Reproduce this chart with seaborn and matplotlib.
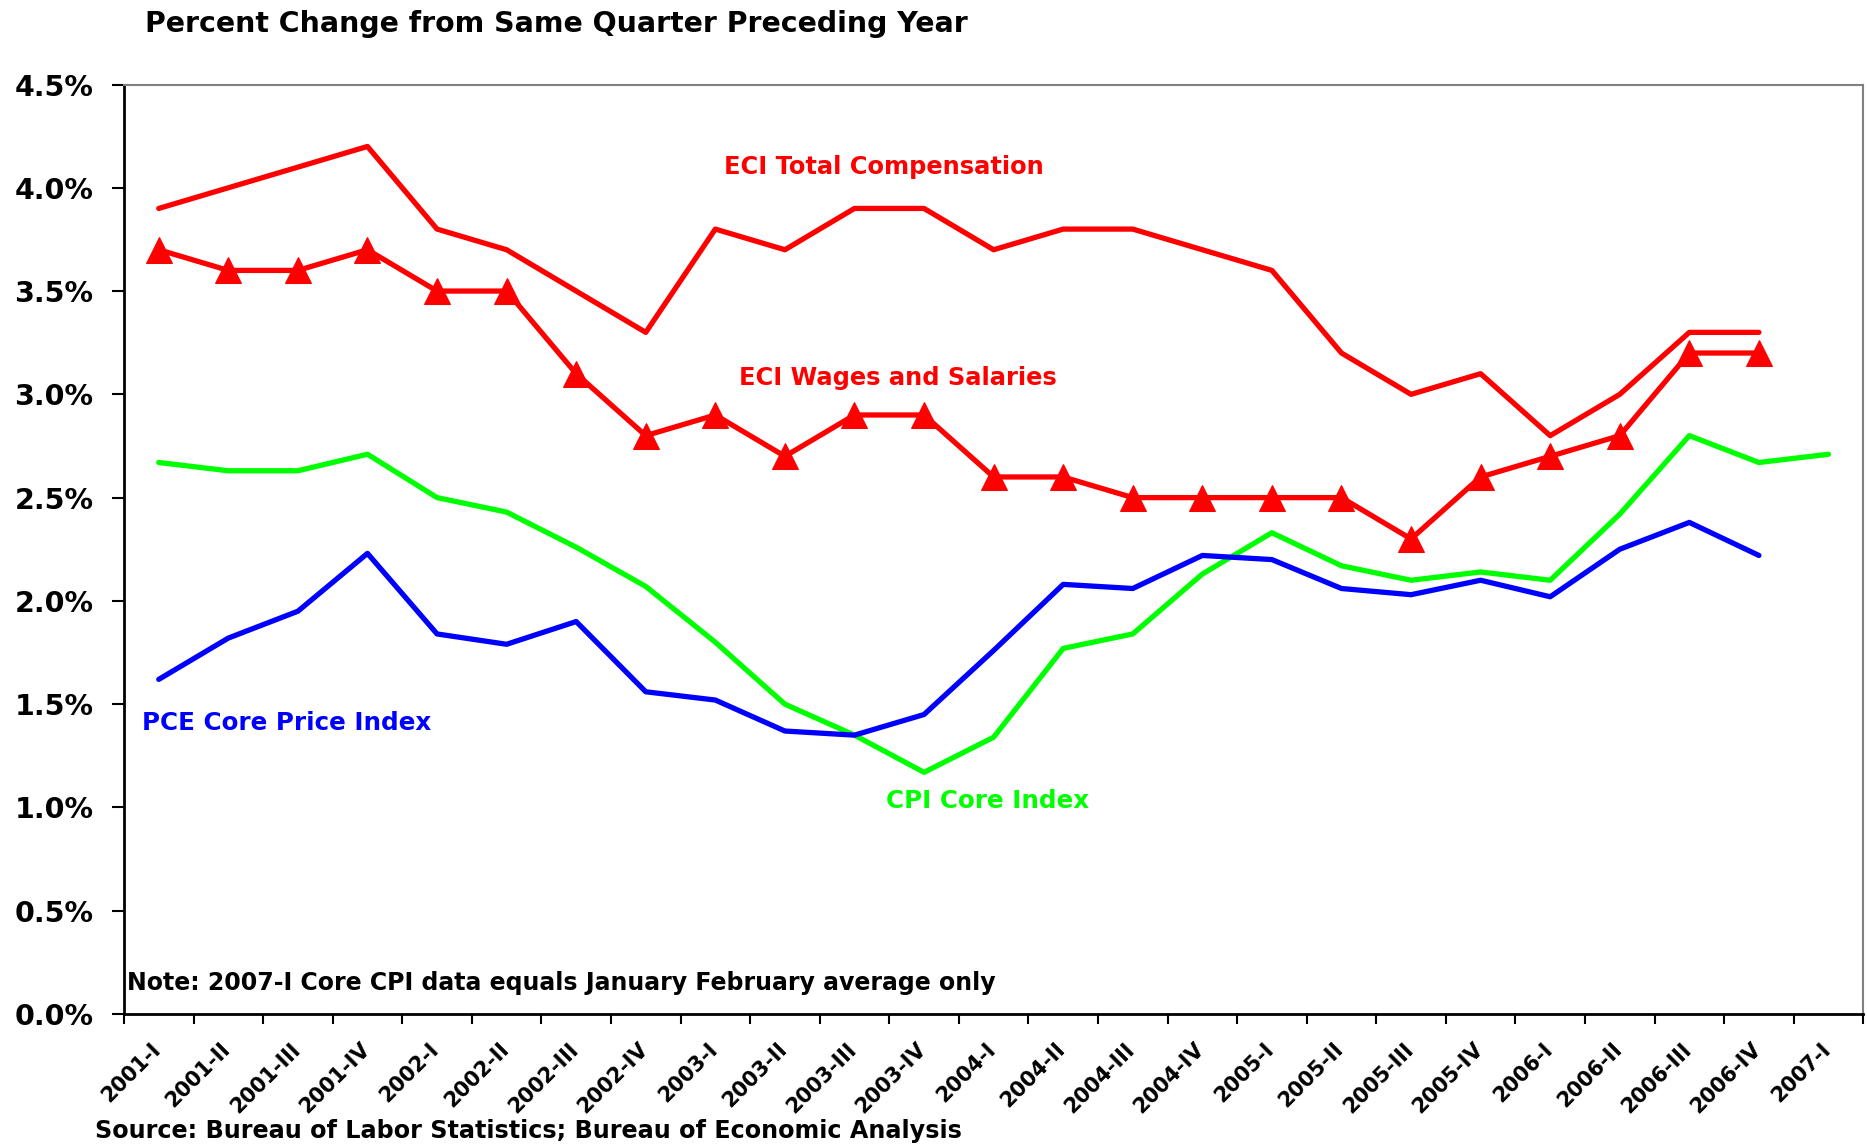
import matplotlib
matplotlib.use("Agg")
import matplotlib.pyplot as plt
import matplotlib.transforms as mtransforms
import seaborn as sns
import numpy as np
import pandas as pd

quarters = ["2001-I", "2001-II", "2001-III", "2001-IV", "2002-I", "2002-II", "2002-III", "2002-IV",
            "2003-I", "2003-II", "2003-III", "2003-IV", "2004-I", "2004-II", "2004-III", "2004-IV",
            "2005-I", "2005-II", "2005-III", "2005-IV", "2006-I", "2006-II", "2006-III", "2006-IV", "2007-I"]

eci_total = [3.9, 4.0, 4.1, 4.2, 3.8, 3.7, 3.5, 3.3, 3.8, 3.7, 3.9, 3.9, 3.7, 3.8, 3.8, 3.7,
             3.6, 3.2, 3.0, 3.1, 2.8, 3.0, 3.3, 3.3, np.nan]
eci_wages = [3.7, 3.6, 3.6, 3.7, 3.5, 3.5, 3.1, 2.8, 2.9, 2.7, 2.9, 2.9, 2.6, 2.6, 2.5, 2.5,
             2.5, 2.5, 2.3, 2.6, 2.7, 2.8, 3.2, 3.2, np.nan]
cpi_core = [2.67, 2.63, 2.63, 2.71, 2.50, 2.43, 2.26, 2.07, 1.80, 1.50, 1.35, 1.17, 1.34, 1.77, 1.84, 2.13,
            2.33, 2.17, 2.10, 2.14, 2.10, 2.42, 2.80, 2.67, 2.71]
pce_core = [1.62, 1.82, 1.95, 2.23, 1.84, 1.79, 1.90, 1.56, 1.52, 1.37, 1.35, 1.45, 1.76, 2.08, 2.06, 2.22,
            2.20, 2.06, 2.03, 2.10, 2.02, 2.25, 2.38, 2.22, np.nan]

y_ticks = [0.0, 0.5, 1.0, 1.5, 2.0, 2.5, 3.0, 3.5, 4.0, 4.5]

sns.set_theme(style="white")
plt.rcParams['font.family'] = ['DejaVu Sans']
plt.rcParams['font.weight'] = 'bold'
plt.rcParams['text.color'] = 'black'
plt.rcParams['xtick.color'] = 'black'
plt.rcParams['ytick.color'] = 'black'
plt.rcParams['xtick.labelcolor'] = 'black'
plt.rcParams['ytick.labelcolor'] = 'black'

fig = plt.figure(figsize=(18.67, 11.45), dpi=100)
ax = fig.add_axes([0.0664, 0.1144, 0.9316, 0.8118])

idx = np.arange(len(quarters))
df = pd.DataFrame({"idx": idx, "total": eci_total, "wages": eci_wages, "cpi": cpi_core, "pce": pce_core})

sns.lineplot(data=df, x="idx", y="total", color="#FF0000", linewidth=3.8, ax=ax, sort=False)
sns.lineplot(data=df, x="idx", y="wages", color="#FF0000", linewidth=3.8, marker="^",
             markersize=19, markeredgecolor="#FF0000", markerfacecolor="#FF0000", ax=ax, sort=False)
sns.lineplot(data=df, x="idx", y="cpi", color="#00FF00", linewidth=3.8, ax=ax, sort=False)
sns.lineplot(data=df, x="idx", y="pce", color="#0000FF", linewidth=3.8, ax=ax, sort=False)

ax.set_xlim(-0.5, len(quarters) - 0.5)
ax.set_ylim(0, 4.5)
ax.set_xlabel("")
ax.set_ylabel("")

# y axis
ax.set_yticks(y_ticks)
ax.set_yticklabels([f"{v:.1f}%" for v in y_ticks], fontsize=20.5, fontweight='bold', color='black')
ax.tick_params(axis='y', direction='out', length=9, width=1.5, color='black', left=True, pad=13)

# x axis: ticks at category boundaries, labels at centers
ax.set_xticks(np.arange(len(quarters) + 1) - 0.5)
ax.set_xticklabels([])
ax.tick_params(axis='x', which='major', direction='out', length=7, width=1.5, color='black', bottom=True)
ax.set_xticks(idx, minor=True)
ax.set_xticklabels(quarters, minor=True, rotation=45, ha='right', rotation_mode='anchor',
                   fontsize=15, fontweight='bold', color='black')
ax.tick_params(axis='x', which='minor', length=0, pad=18)
offset = mtransforms.ScaledTranslation(-8 / 100, 0, fig.dpi_scale_trans)
for lbl in ax.get_xticklabels(minor=True):
    lbl.set_transform(lbl.get_transform() + offset)

for s in ['left', 'bottom']:
    ax.spines[s].set_color('black')
    ax.spines[s].set_linewidth(2)
for s in ['top', 'right']:
    ax.spines[s].set_color('#808080')
    ax.spines[s].set_linewidth(1.5)

ax.text(10.42, 4.10, "ECI Total Compensation", color="#FF0000", fontsize=17.4, fontweight='bold',
        ha='center', va='center')
ax.text(10.62, 3.08, "ECI Wages and Salaries", color="#FF0000", fontsize=17.4, fontweight='bold',
        ha='center', va='center')
ax.text(-0.24, 1.41, "PCE Core Price Index", color="#0000FF", fontsize=17.7, fontweight='bold',
        ha='left', va='center')
ax.text(11.92, 1.03, "CPI Core Index", color="#00FF00", fontsize=17.7, fontweight='bold',
        ha='center', va='center')
ax.text(-0.45, 0.15, "Note: 2007-I Core CPI data equals January February average only", color="black",
        fontsize=17.0, fontweight='bold', ha='left', va='center')

fig.text(0.0778, 0.979, "Percent Change from Same Quarter Preceding Year", fontsize=20.4,
         fontweight='bold', ha='left', va='center', color='black')
fig.text(0.051, 0.012, "Source: Bureau of Labor Statistics; Bureau of Economic Analysis", fontsize=17.2,
         fontweight='bold', ha='left', va='center', color='black')

fig.savefig("out.png", dpi=100)
